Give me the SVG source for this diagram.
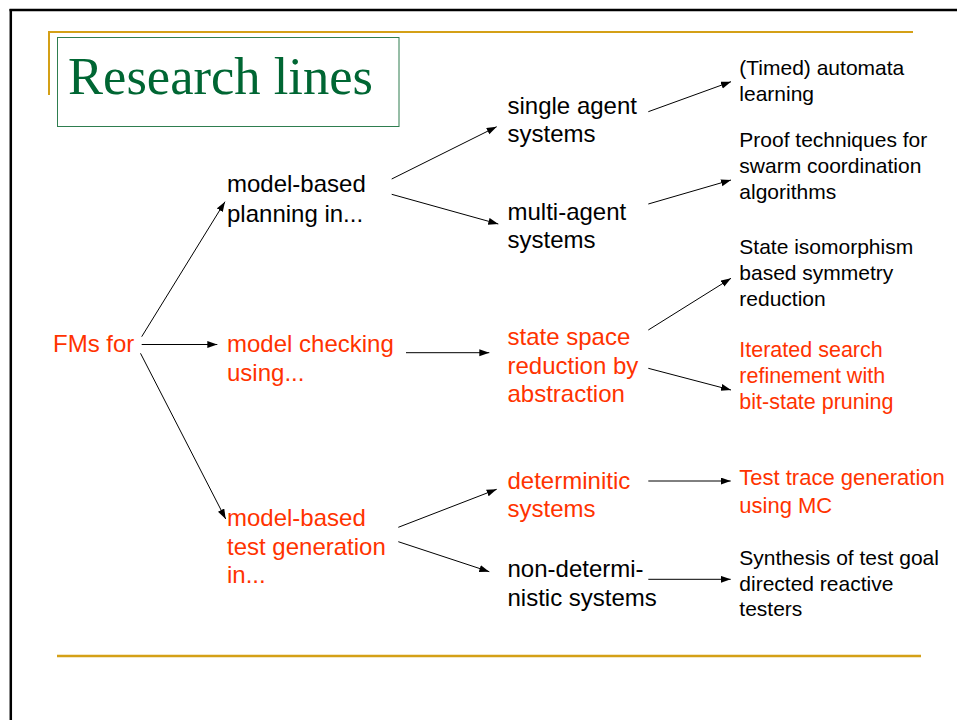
<svg xmlns="http://www.w3.org/2000/svg" width="957" height="720" viewBox="0 0 957 720">
<style>
.t{font-family:"Liberation Sans",Arial,sans-serif;font-size:24px;fill:#000}
.s{font-family:"Liberation Sans",Arial,sans-serif;font-size:21px;fill:#000}
.s2{font-size:21.5px}
.s3{font-size:22px}
.r{fill:#FF3300}
.c{stroke:#000;stroke-width:1;fill:none;marker-end:url(#ah)}
.g{stroke:#D4A017;fill:none}
</style>
<defs>
<marker id="ah" markerUnits="userSpaceOnUse" markerWidth="11" markerHeight="8" refX="10" refY="3.5" orient="auto">
<path d="M0,0 L10,3.5 L0,7 z" fill="#000"/>
</marker>
</defs>
<rect width="957" height="720" fill="#fff"/>
<g id="frame">
<line x1="9.5" y1="10" x2="957" y2="10" stroke="#000" stroke-width="2.5"/>
<line x1="10.8" y1="9" x2="10.8" y2="720" stroke="#000" stroke-width="2.5"/>
<path class="g" d="M49,95 V32 H913" stroke-width="2"/>
<line class="g" x1="57" y1="656" x2="921" y2="656" stroke-width="2.5"/>
</g>
<g id="title">
<rect x="57.5" y="37.5" width="341.5" height="89" fill="#fff" stroke="#2E7D4F" stroke-width="1"/>
<text x="68" y="94" font-family="'Liberation Serif','Times New Roman',serif" font-size="53" fill="#006633" textLength="305" lengthAdjust="spacingAndGlyphs">Research lines</text>
</g>
<g id="connectors">
<line class="c" x1="141.7" y1="336.7" x2="225" y2="201.7"/>
<line class="c" x1="141.7" y1="344.5" x2="217.3" y2="344.5"/>
<line class="c" x1="140.5" y1="353.3" x2="225.7" y2="519"/>
<line class="c" x1="391.7" y1="179" x2="496.7" y2="126.7"/>
<line class="c" x1="391.7" y1="194.3" x2="498.3" y2="224"/>
<line class="c" x1="648.3" y1="111.7" x2="731" y2="81.7"/>
<line class="c" x1="648.3" y1="204" x2="731" y2="180"/>
<line class="c" x1="406" y1="352.7" x2="489.3" y2="352.7"/>
<line class="c" x1="648.3" y1="330" x2="731" y2="278.3"/>
<line class="c" x1="648.3" y1="368.3" x2="731" y2="390"/>
<line class="c" x1="398.3" y1="527.3" x2="496.7" y2="489.3"/>
<line class="c" x1="398.3" y1="541.7" x2="489.3" y2="571.7"/>
<line class="c" x1="648.3" y1="481" x2="730.7" y2="481"/>
<line class="c" x1="648.3" y1="579.3" x2="730.7" y2="579.3"/>
</g>
<g id="fms"><text class="t r" x="53" y="351.5">FMs for</text></g>
<g id="planning"><text class="t" x="227" y="192">model-based</text><text class="t" x="227" y="221.5">planning in...</text></g>
<g id="checking"><text class="t r" x="227" y="351.7">model checking</text><text class="t r" x="227" y="380.5">using...</text></g>
<g id="testgen"><text class="t r" x="227" y="526">model-based</text><text class="t r" x="227" y="554.5">test generation</text><text class="t r" x="227" y="583">in...</text></g>
<g id="single"><text class="t" x="507.5" y="113.5">single agent</text><text class="t" x="507.5" y="142">systems</text></g>
<g id="multi"><text class="t" x="507.5" y="219.5">multi-agent</text><text class="t" x="507.5" y="247.5">systems</text></g>
<g id="statespace"><text class="t r" x="507.5" y="345">state space</text><text class="t r" x="507.5" y="373.5">reduction by</text><text class="t r" x="507.5" y="402">abstraction</text></g>
<g id="determ"><text class="t r" x="507.5" y="488.5">determinitic</text><text class="t r" x="507.5" y="517">systems</text></g>
<g id="nondeterm"><text class="t" x="507.5" y="577">non-determi-</text><text class="t" x="507.5" y="605.5">nistic systems</text></g>
<g id="timed"><text class="s" x="739.3" y="74.5">(Timed) automata</text><text class="s" x="739.3" y="100.5">learning</text></g>
<g id="proof"><text class="s" x="739.3" y="147">Proof techniques for</text><text class="s" x="739.3" y="173">swarm coordination</text><text class="s" x="739.3" y="199">algorithms</text></g>
<g id="iso"><text class="s" x="739.3" y="253.5">State isomorphism</text><text class="s" x="739.3" y="279.5">based symmetry</text><text class="s" x="739.3" y="305.5">reduction</text></g>
<g id="iterated"><text class="s s2 r" x="739.3" y="357">Iterated search</text><text class="s s2 r" x="739.3" y="383">refinement with</text><text class="s s2 r" x="739.3" y="409">bit-state pruning</text></g>
<g id="trace"><text class="s s3 r" x="739.3" y="485">Test trace generation</text><text class="s s3 r" x="739.3" y="512.5">using MC</text></g>
<g id="synth"><text class="s" x="739.3" y="565">Synthesis of test goal</text><text class="s" x="739.3" y="590.5">directed reactive</text><text class="s" x="739.3" y="616">testers</text></g>
</svg>
